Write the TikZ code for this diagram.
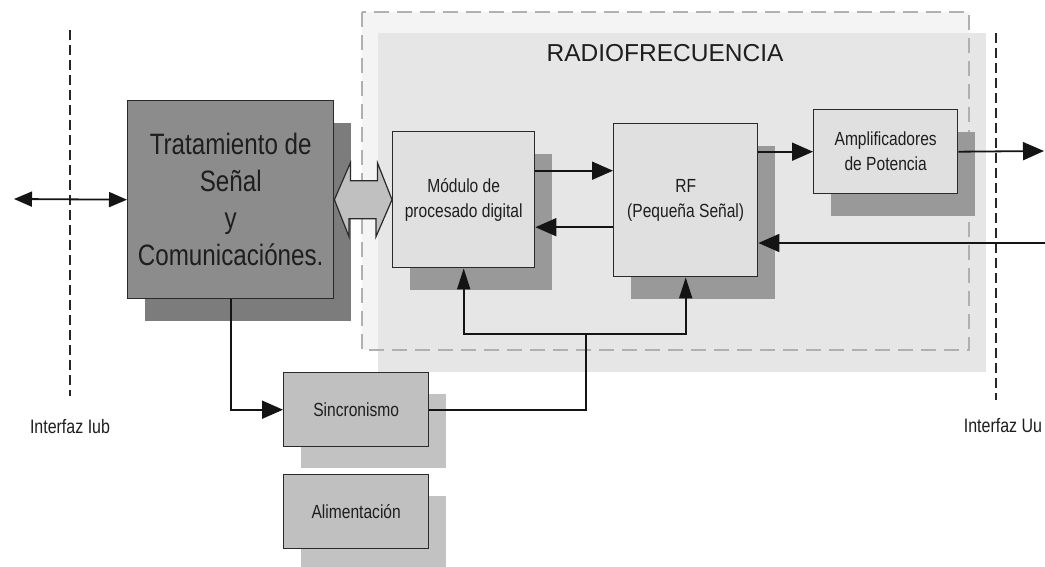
\documentclass[tikz,border=0pt]{standalone}
\usepackage{fontspec}
\setmainfont{Liberation Sans}
\newfontfamily\narrowfont[FakeStretch=0.82]{Liberation Sans}
\usetikzlibrary{shadows,arrows.meta,calc}
\definecolor{boxline}{HTML}{2A2A2A}
\definecolor{textcol}{HTML}{1E1E1E}
\definecolor{darkfill}{HTML}{8C8C8C}
\definecolor{darkshadow}{HTML}{7C7C7C}
\definecolor{lightfill}{HTML}{E0E0E0}
\definecolor{midshadow}{HTML}{999999}
\definecolor{syncfill}{HTML}{C0C0C0}
\definecolor{syncshadow}{HTML}{C2C2C2}
\definecolor{regionfill}{HTML}{F4F4F4}
\definecolor{regionshadow}{HTML}{E6E6E6}
\definecolor{regionline}{HTML}{B0B0B0}
\definecolor{wireline}{HTML}{141414}
\begin{document}
\begin{tikzpicture}[x=1pt,y=-1pt,
  blockbox/.style={draw=boxline, line width=1.4pt, inner sep=0pt, anchor=north west,
    align=center, text=textcol, font=\narrowfont\fontsize{19}{25}\selectfont},
  lightbox/.style={blockbox, fill=lightfill,
    drop shadow={shadow xshift=17pt, shadow yshift=-22pt, fill=midshadow, opacity=1}},
  syncbox/.style={blockbox, fill=syncfill,
    drop shadow={shadow xshift=17pt, shadow yshift=-21pt, fill=syncshadow, opacity=1}},
  bigbox/.style={blockbox, fill=darkfill, font=\narrowfont\fontsize{29.5}{37}\selectfont,
    drop shadow={shadow xshift=17pt, shadow yshift=-22pt, fill=darkshadow, opacity=1}},
  wire/.style={draw=wireline, line width=1.8pt},
  arrowwire/.style={wire, -{Triangle[length=21pt,width=18pt]}},
  uparrowwire/.style={wire, -{Triangle[length=21pt,width=13pt]}},
  bothwire/.style={wire, {Triangle[length=18pt,width=15pt]}-{Triangle[length=18pt,width=15pt]}},
  ifaceline/.style={draw=black!85, line width=1.3pt, dash pattern=on 10pt off 5pt},
  ifacelabel/.style={anchor=base, text=textcol, font=\narrowfont\fontsize{19.5}{23}\selectfont},
  bus/.style={draw=boxline, line width=1.2pt, fill=syncfill}
]
\clip (0,0) rectangle (1045,567);
\fill[white] (0,0) rectangle (1045,567);

% Radio frequency region
\fill[regionfill] (362,12) rectangle (969,350);
\fill[regionshadow] (378,33) rectangle (986,372);
\draw[regionline, line width=1.4pt, dash pattern=on 15pt off 8pt] (362,12) rectangle (969,350);
\node[anchor=base, text=textcol, font=\fontsize{24.5}{28}\selectfont] (rftitle) at (665,62) {RADIOFRECUENCIA};

% Interfaces
\coordinate (ifltop) at (70,30);
\coordinate (iflbot) at (70,396);
\coordinate (ifrtop) at (996,33);
\coordinate (ifrbot) at (996,400);
\draw[ifaceline] (ifltop) -- (iflbot);
\draw[ifaceline] (ifrtop) -- (ifrbot);
\node[ifacelabel] (iub) at (70,433) {Interfaz Iub};
\node[ifacelabel] (uu) at (1003,432) {Interfaz Uu};

% Blocks
\node[bigbox, minimum width=206pt, minimum height=198pt] (trat) at (127,100)
  {Tratamiento de\\Señal\\y\\Comunicaciónes.};
\node[lightbox, minimum width=142pt, minimum height=136pt] (mod) at (392,131)
  {Módulo de\\procesado digital};
\node[lightbox, minimum width=144pt, minimum height=153pt] (rf) at (613,123)
  {RF\\(Pequeña Señal)};
\node[lightbox, minimum width=144pt, minimum height=84pt] (amp) at (813,109)
  {Amplificadores\\de Potencia};
\node[syncbox, minimum width=145pt, minimum height=74pt] (sinc) at (283,372)
  {Sincronismo};
\node[syncbox, minimum width=145pt, minimum height=74pt] (alim) at (283,474)
  {Alimentación};

% Block double arrow between Tratamiento and Modulo
\draw[bus] (trat.east) -- ++(16,-37) -- ++(0,18) -- ++(27,0) -- ++(0,-18)
  -- (mod.west) -- ++(-16,37) -- ++(0,-18) -- ++(-27,0) -- ++(0,18) -- cycle;

% Connectors
\coordinate (lft) at (14,199);
\draw[bothwire] (lft) -- (trat.west);
\draw[arrowwire] (trat.south) |- (sinc.west);
\coordinate (busj) at (586,334);
\draw[wire] (sinc.east) -| (busj);
\draw[uparrowwire] (busj) -| (mod.south);
\draw[uparrowwire] (busj) -| (rf.south);
\draw[arrowwire] ([yshift=29pt]mod.east) -- ([yshift=29pt]mod.east -| rf.west);
\draw[arrowwire] ([yshift=-27pt]rf.west) -- ([yshift=-27pt]rf.west -| mod.east);
\draw[arrowwire] (amp.west -| rf.east) -- (amp.west);
\coordinate (outc) at (1044,151);
\draw[arrowwire] (amp.east) -- (outc);
\coordinate (inc) at (1046,243);
\draw[arrowwire] (inc) -- (inc -| rf.east);
\end{tikzpicture}
\end{document}
